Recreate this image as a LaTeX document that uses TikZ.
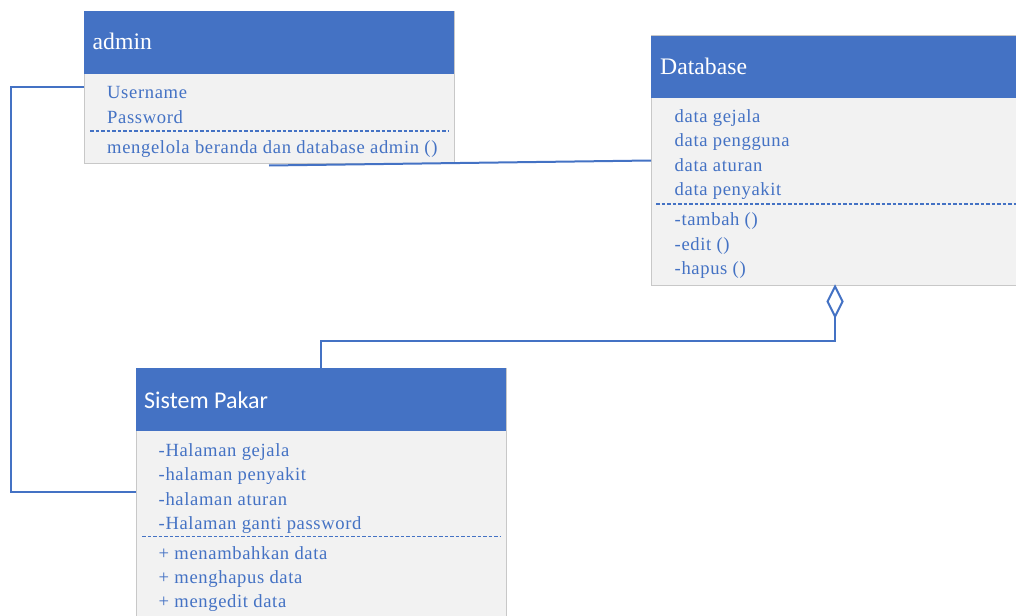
\documentclass[tikz,border=0pt]{standalone}
\usepackage{fontspec}
\setmainfont{Liberation Serif}
\newfontfamily\headsans{Carlito}
\newfontfamily\memberfont[LetterSpace=3.4]{Liberation Serif}
\usetikzlibrary{shapes.geometric}
\definecolor{umlblue}{HTML}{4472C4}
\definecolor{bodygray}{HTML}{F2F2F2}
\definecolor{edgegray}{HTML}{C8C8C8}
\tikzset{
  classbox/.style={rectangle, draw=edgegray, fill=bodygray, line width=1pt, inner sep=0pt, outer sep=0pt},
  headbar/.style={fill=umlblue},
  title/.style={anchor=base west, inner sep=0pt, text=white, font=\fontsize{23.7}{26}\selectfont},
  member/.style={anchor=base west, inner sep=0pt, text=umlblue, font=\memberfont\fontsize{18.6}{22}\selectfont},
  sep/.style={draw=umlblue, line width=1.5pt, dash pattern=on 3.5pt off 2pt},
  link/.style={draw=umlblue, line width=2pt},
  aggmark/.style={diamond, draw=umlblue, fill=white, line width=2pt, inner sep=0pt, outer sep=0pt, minimum width=15pt, minimum height=30pt}
}
\begin{document}
\begin{tikzpicture}[x=1pt,y=-1pt]
\useasboundingbox (0,0) rectangle (1016,615);

% class: admin
\node[classbox, minimum width=370pt, minimum height=152pt] (admin) at (269,87.5) {};
\fill[headbar] (admin.north west) rectangle (454,74);
\node[title] (adminT) at (92.5,49.5) {admin};
\node[member] (adminA1) at (107,99) {Username};
\node[member] (adminA2) at (107,123) {Password};
\draw[sep] (90,131) -- (448,131);
\node[member] (adminM1) at (107,153) {mengelola beranda dan database admin ()};

% class: Database
\node[classbox, minimum width=368pt, minimum height=249pt] (db) at (835,160.5) {};
\fill[headbar] (db.north west) rectangle (1019,98);
\node[title] (dbT) at (660,75) {Database};
\node[member] (dbA1) at (674.5,122.7) {data gejala};
\node[member] (dbA2) at (674.5,146.7) {data pengguna};
\node[member] (dbA3) at (674.5,171) {data aturan};
\node[member] (dbA4) at (674.5,195.5) {data penyakit};
\draw[sep] (656,204) -- (1016,204);
\node[member] (dbM1) at (674.5,225.7) {-tambah ()};
\node[member] (dbM2) at (674.5,250) {-edit ()};
\node[member] (dbM3) at (674.5,274.3) {-hapus ()};

% class: Sistem Pakar
\node[classbox, minimum width=370pt, minimum height=248pt] (sp) at (321,492) {};
\fill[headbar] (sp.north west) rectangle (506,431);
\node[title, font=\headsans\fontsize{24}{28}\selectfont] (spT) at (144,408.3) {Sistem Pakar};
\node[member] (spA1) at (158.5,456.7) {-Halaman gejala};
\node[member] (spA2) at (158.5,480.7) {-halaman penyakit};
\node[member] (spA3) at (158.5,505) {-halaman aturan};
\node[member] (spA4) at (158.5,529.3) {-Halaman ganti password};
\draw[sep] (142,536.5) -- (500,536.5);
\node[member] (spM1) at (158.5,559) {+ menambahkan data};
\node[member] (spM2) at (158.5,583.3) {+ menghapus data};
\node[member] (spM3) at (158.5,607.7) {+ mengedit data};

% associations
\draw[link] (admin.west) -- ++(-73,0) |- (sp.west);
\draw[link] ([yshift=-2pt]admin.south) -- (db.west);

% aggregation: Sistem Pakar -- Database
\node[aggmark, anchor=north] (agg) at ([yshift=-1.5pt]db.south) {};
\draw[link] (sp.north) -- ++(0,-27) -| (agg.south);
\end{tikzpicture}
\end{document}
